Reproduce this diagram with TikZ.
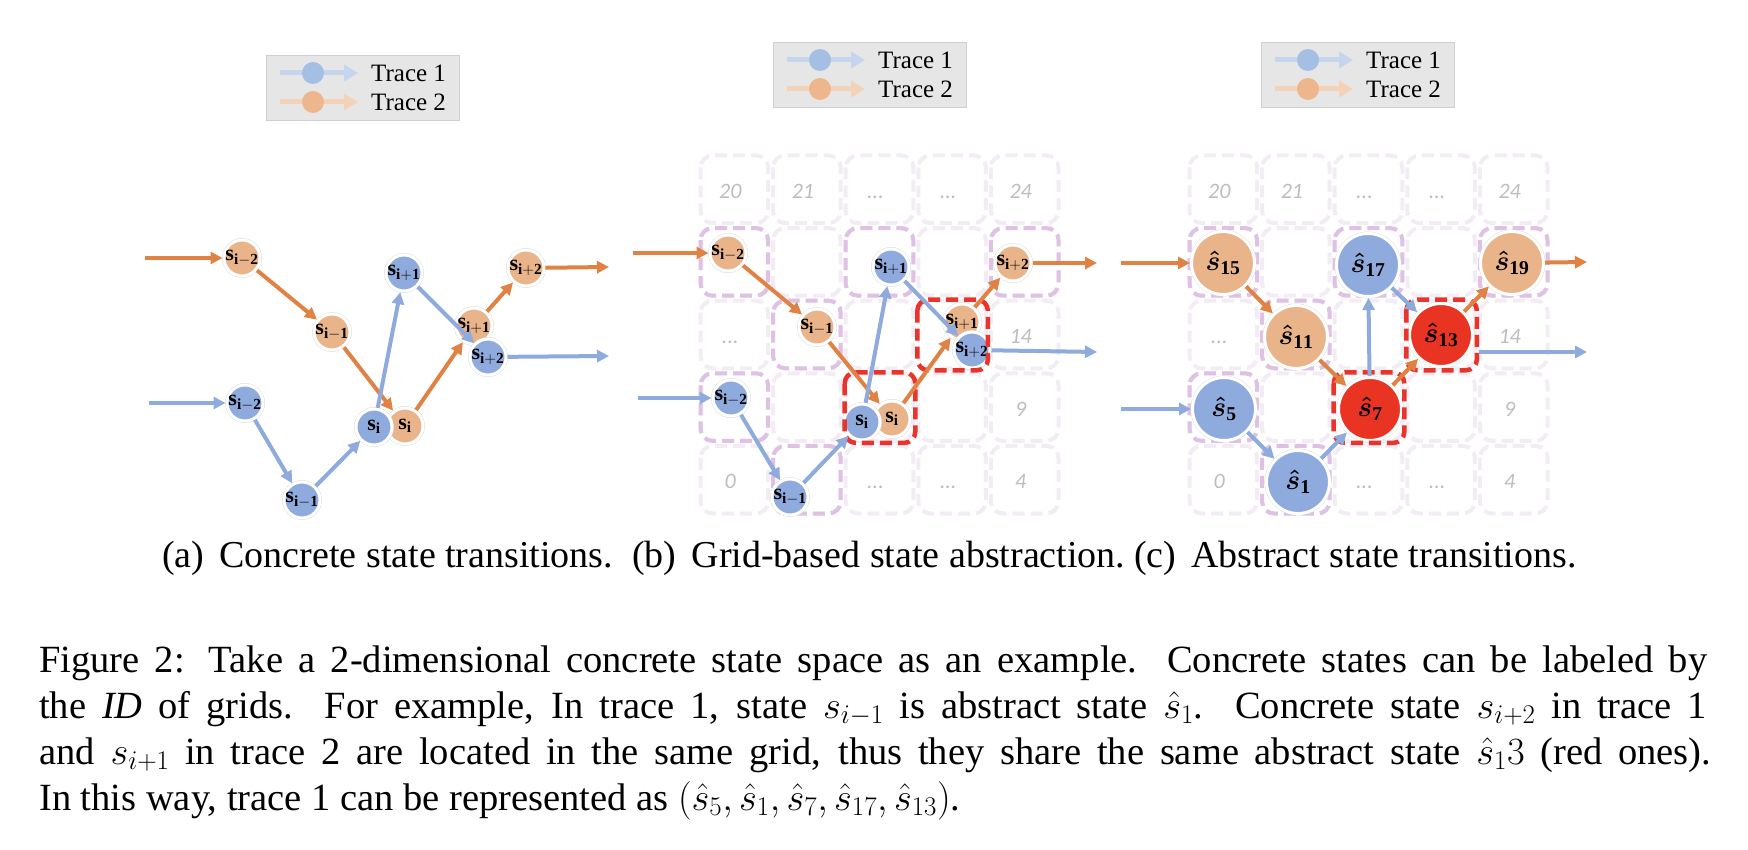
\RequirePackage{fix-cm}
\documentclass[tikz,border=0pt]{standalone}
\usepackage{amsmath}
\usepackage{fontspec}
\setmainfont{Liberation Serif}
\newfontfamily\calib{Carlito}
\usetikzlibrary{arrows.meta,calc}

\definecolor{bfill}{HTML}{8FAADC}
\definecolor{ofill}{HTML}{EAB48B}
\definecolor{oarr}{HTML}{DF8243}
\definecolor{barr}{HTML}{8FAADC}
\definecolor{rfill}{HTML}{E93424}
\definecolor{rdash}{HTML}{E8342A}
\definecolor{faint}{HTML}{F3ECF5}
\definecolor{lav}{HTML}{DFC1E6}
\definecolor{glabel}{HTML}{BDBDBD}
\definecolor{legfill}{HTML}{E6E6E6}
\definecolor{legdraw}{HTML}{CFCFCF}
\definecolor{legbl}{HTML}{C6D5EE}
\definecolor{legbc}{HTML}{A5BEE3}
\definecolor{legol}{HTML}{F4D2B8}
\definecolor{legoc}{HTML}{EDB68C}

\newcommand\gdots{...}
\newcommand\capsize{\fontsize{38.5}{46}\selectfont}
\newcommand\subsize{\fontsize{38}{46}\selectfont}

\tikzset{
  stn/.style={circle, inner sep=0pt, minimum size=36pt, fill=#1, draw=white, line width=3pt,
              preaction={draw=black!15, line width=3.8pt}},
  bst/.style={stn=bfill}, ost/.style={stn=ofill},
  bigs/.style={circle, inner sep=0pt, minimum size=63pt, fill=#1, draw=white, line width=3pt,
              preaction={draw=black!15, line width=3.8pt}},
  slab/.style={font=\fontsize{22}{22}\selectfont, inner sep=0pt},
  clab/.style={font=\fontsize{28}{28}\selectfont, inner sep=0pt},
  tr/.style={line width=4pt, -{Triangle[length=12pt,width=12pt]}},
  ta/.style={tr, draw=oarr}, tb/.style={tr, draw=barr},
  cellf/.style={draw=faint, line width=4pt, dash pattern=on 12pt off 6pt, rounded corners=12pt},
  cellh/.style={draw=lav, line width=4pt, dash pattern=on 12pt off 6pt, rounded corners=12pt},
  cellr/.style={draw=rdash, line width=4.5pt, dash pattern=on 12pt off 6pt, rounded corners=11pt},
  glab/.style={font=\calib\itshape\fontsize{22}{22}\selectfont, text=glabel, anchor=base, inner sep=0pt},
  legbox/.style={minimum width=193pt, minimum height=65pt, fill=legfill, draw=legdraw, line width=1.2pt, inner sep=0pt},
  legarr/.style={line width=5pt, -{Triangle[length=14pt,width=16pt]}},
  legtxt/.style={anchor=west, inner sep=0pt, font=\fontsize{25}{25}\selectfont},
  captxt/.style={anchor=base west, inner sep=0pt, font=\capsize},
  subtxt/.style={anchor=base west, inner sep=0pt, font=\subsize},
}

\newcommand\legendbox[3]{%
  \node[legbox, anchor=north west] (#3box) at (#1,#2) {};
  \coordinate (#3s1) at (#1+14,#2+18); \coordinate (#3e1) at (#1+92,#2+18);
  \coordinate (#3s2) at (#1+14,#2+47); \coordinate (#3e2) at (#1+92,#2+47);
  \draw[legarr, draw=legbl] (#3s1) -- (#3e1);
  \draw[legarr, draw=legol] (#3s2) -- (#3e2);
  \node[circle, fill=legbc, minimum size=22pt, inner sep=0pt] (#3c1) at (#1+47,#2+18) {};
  \node[circle, fill=legoc, minimum size=22pt, inner sep=0pt] (#3c2) at (#1+47,#2+47) {};
  \node[legtxt] (#3t1) at (#1+105,#2+18) {Trace 1};
  \node[legtxt] (#3t2) at (#1+105,#2+47) {Trace 2};
}

\newcommand\drawgrid[2]{%
  \foreach \c in {0,...,4}{\foreach \t in {0,...,4}{
    \draw[cellf] (#1+\c*72.6+2.5, 153+\t*72.6+2.5) rectangle ++(67.6,67.6);}}
  \foreach \c/\t in {0/1,2/1,4/1,1/2,0/3,1/4}{
    \draw[cellh] (#1+\c*72.6+2.5, 153+\t*72.6+2.5) rectangle ++(67.6,67.6);}
  \foreach \c/\t/\lab [count=\k] in {0/0/20,1/0/21,2/0/\gdots,3/0/\gdots,4/0/24,0/2/\gdots,4/2/14,4/3/9,0/4/0,2/4/\gdots,3/4/\gdots,4/4/4}{
    \node[glab] (#2l\k) at (#1+\c*72.6+32.3, 153+\t*72.6+45.3) {\lab};}
}
\newcommand\redbox[3]{%
  \draw[cellr] (#1+#2*72.6+1.5, 153+#3*72.6+1.5) rectangle ++(70.6,70.6);
}

\begin{document}
\begin{tikzpicture}[x=1pt, y=-1pt]
\useasboundingbox (0,0) rectangle (1748,850);

% legends
\legendbox{266}{55}{la}
\legendbox{773}{42}{lb}
\legendbox{1261}{42}{lc}

% ---------------- panel (a)
\node[ost, label={[slab]center:$\mathbf{s}_{\mathbf{i-2}}$}] (ao1) at (242,258) {};
\node[ost, label={[slab]center:$\mathbf{s}_{\mathbf{i-1}}$}] (ao2) at (332,332) {};
\node[ost, label={[slab]center:$\mathbf{s}_{\mathbf{i}}$}] (ao3) at (405,426) {};
\node[ost, label={[slab]center:$\mathbf{s}_{\mathbf{i+1}}$}] (ao4) at (474,326) {};
\node[ost, label={[slab]center:$\mathbf{s}_{\mathbf{i+2}}$}] (ao5) at (526,268) {};
\node[bst, label={[slab]center:$\mathbf{s}_{\mathbf{i-2}}$}] (ab1) at (245,403) {};
\node[bst, label={[slab]center:$\mathbf{s}_{\mathbf{i-1}}$}] (ab2) at (302,500) {};
\node[bst, label={[slab]center:$\mathbf{s}_{\mathbf{i}}$}] (ab3) at (374,427) {};
\node[bst, label={[slab]center:$\mathbf{s}_{\mathbf{i+1}}$}] (ab4) at (404,273) {};
\node[bst, label={[slab]center:$\mathbf{s}_{\mathbf{i+2}}$}] (ab5) at (488,357) {};
\coordinate (aoin) at (145,258);
\coordinate (abin) at (149,403);
\coordinate (aoout) at (609,267);
\coordinate (about) at (609,356);
\draw[ta] (aoin) -- (ao1);
\draw[ta] (ao1) -- (ao2);
\draw[ta] (ao2) -- (ao3);
\draw[ta] (ao3) -- (ao4);
\draw[ta] (ao4) -- (ao5);
\draw[ta] (ao5) -- (aoout);
\draw[tb] (abin) -- (ab1);
\draw[tb] (ab1) -- (ab2);
\draw[tb] (ab2) -- (ab3);
\draw[tb] (ab3) -- (ab4);
\draw[tb] (ab4) -- (ab5);
\draw[tb] (ab5) -- (about);

% ---------------- panel (b)
\drawgrid{698}{gb}
\node[ost, label={[slab]center:$\mathbf{s}_{\mathbf{i-2}}$}] (bo1) at (728,253) {};
\node[ost, label={[slab]center:$\mathbf{s}_{\mathbf{i-1}}$}] (bo2) at (817,327) {};
\node[ost, label={[slab]center:$\mathbf{s}_{\mathbf{i}}$}] (bo3) at (892,419) {};
\node[ost, label={[slab]center:$\mathbf{s}_{\mathbf{i+1}}$}] (bo4) at (962,322) {};
\node[ost, label={[slab]center:$\mathbf{s}_{\mathbf{i+2}}$}] (bo5) at (1013,263) {};
\node[bst, label={[slab]center:$\mathbf{s}_{\mathbf{i-2}}$}] (bb1) at (731,398) {};
\node[bst, label={[slab]center:$\mathbf{s}_{\mathbf{i-1}}$}] (bb2) at (790,497) {};
\node[bst, label={[slab]center:$\mathbf{s}_{\mathbf{i}}$}] (bb3) at (862,422) {};
\node[bst, label={[slab]center:$\mathbf{s}_{\mathbf{i+1}}$}] (bb4) at (891,267) {};
\node[bst, label={[slab]center:$\mathbf{s}_{\mathbf{i+2}}$}] (bb5) at (972,350) {};
\redbox{698}{2}{3}
\redbox{698}{3}{2}
\coordinate (boin) at (633,253);
\coordinate (bbin) at (638,398);
\coordinate (boout) at (1097,263);
\coordinate (bbout) at (1097,352);
\draw[ta] (boin) -- (bo1);
\draw[ta] (bo1) -- (bo2);
\draw[ta] (bo2) -- (bo3);
\draw[ta] (bo3) -- (bo4);
\draw[ta] (bo4) -- (bo5);
\draw[ta] (bo5) -- (boout);
\draw[tb] (bbin) -- (bb1);
\draw[tb] (bb1) -- (bb2);
\draw[tb] (bb2) -- (bb3);
\draw[tb] (bb3) -- (bb4);
\draw[tb] (bb4) -- (bb5);
\draw[tb] (bb5) -- (bbout);

% ---------------- panel (c)
\drawgrid{1187}{gc}
\node[bigs=ofill, label={[clab]center:$\boldsymbol{\hat{s}}_{\mathbf{15}}$}] (c15) at (1223,263) {};
\node[bigs=ofill, label={[clab]center:$\boldsymbol{\hat{s}}_{\mathbf{11}}$}] (c11) at (1296,337) {};
\node[bigs=ofill, label={[clab]center:$\boldsymbol{\hat{s}}_{\mathbf{19}}$}] (c19) at (1512,263) {};
\node[bigs=bfill, label={[clab]center:$\boldsymbol{\hat{s}}_{\mathbf{17}}$}] (c17) at (1368,265) {};
\node[bigs=bfill, label={[clab]center:$\boldsymbol{\hat{s}}_{\mathbf{5}}$}] (c5) at (1224,409) {};
\node[bigs=bfill, label={[clab]center:$\boldsymbol{\hat{s}}_{\mathbf{1}}$}] (c1) at (1298,482) {};
\node[bigs=rfill, label={[clab]center:$\boldsymbol{\hat{s}}_{\mathbf{7}}$}] (c7) at (1370,409) {};
\node[bigs=rfill, label={[clab]center:$\boldsymbol{\hat{s}}_{\mathbf{13}}$}] (c13) at (1441,335) {};
\redbox{1187}{2}{3}
\redbox{1187}{3}{2}
\coordinate (coin) at (1121,263);
\coordinate (cbin) at (1121,409);
\coordinate (coout) at (1587,262);
\coordinate (cbout) at (1587,352);
\draw[ta] (coin) -- (c15);
\draw[ta] (c15) -- (c11);
\draw[ta] (c11) -- (c7);
\draw[ta] (c7) -- (c13);
\draw[ta] (c13) -- (c19);
\draw[ta] (c19) -- (coout);
\draw[tb] (cbin) -- (c5);
\draw[tb] (c5) -- (c1);
\draw[tb] (c1) -- (c7);
\draw[tb] (c7) -- (c17);
\draw[tb] (c17) -- (c13);
\draw[tb] ($(c13.east |- cbout)+(5,0)$) -- (cbout);

% ---------------- captions
\node[subtxt] (suba) at (162,567) {(a)\hspace{0.4em}Concrete state transitions.};
\node[subtxt] (subb) at (632,567) {(b)\hspace{0.4em}Grid-based state abstraction.};
\node[subtxt] (subc) at (1134,567) {(c)\hspace{0.4em}Abstract state transitions.};

\node[captxt] (cap1) at (39,672) {\makebox[1668pt][s]{Figure 2: Take a 2-dimensional concrete state space as an example. Concrete states can be labeled by}};
\node[captxt] (cap2) at (39,718) {\makebox[1668pt][s]{the \textit{ID} of grids. For example, In trace 1, state $s_{i-1}$ is abstract state $\hat{s}_1$. Concrete state $s_{i+2}$ in trace 1}};
\node[captxt] (cap3) at (39,764) {\makebox[1672pt][s]{and $s_{i+1}$ in trace 2 are located in the same grid, thus they share the same abstract state $\hat{s}_13$ (red ones).}};
\node[captxt] (cap4) at (39,810) {In this way, trace 1 can be represented as $(\hat{s}_5, \hat{s}_1, \hat{s}_7, \hat{s}_{17}, \hat{s}_{13})$.};
\end{tikzpicture}
\end{document}
